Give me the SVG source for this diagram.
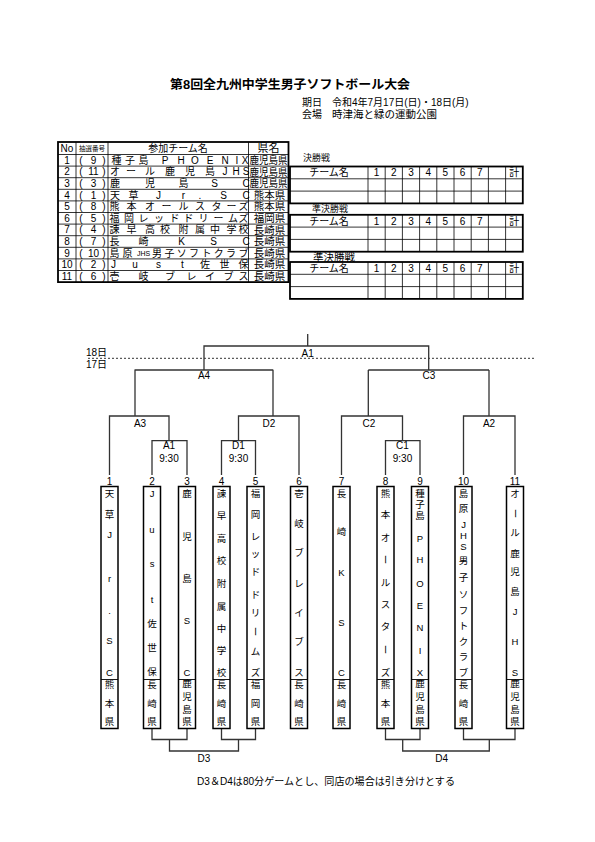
<svg xmlns="http://www.w3.org/2000/svg" width="595" height="842" viewBox="0 0 595 842">
<style>
.t{font-family:"Liberation Sans","Noto Sans CJK JP",sans-serif;fill:#000}
.m{text-anchor:middle}
.f10{font-size:10px}
.f9{font-size:9px}
.bx{font-size:9.5px;text-anchor:middle}
.ln{stroke:#333;stroke-width:1.3;fill:none}
.box{fill:#fff;stroke:#000;stroke-width:1.5}
.dv{stroke:#000;stroke-width:0.9}
.g{stroke:#000;stroke-width:0.8;fill:none}
.o{stroke:#000;stroke-width:1.8;fill:none}
</style>
<rect width="595" height="842" fill="#fff"/>

<g id="header">
<text class="t" x="290" y="89" text-anchor="middle" font-size="12.5" font-weight="bold" textLength="240" lengthAdjust="spacingAndGlyphs">第8回全九州中学生男子ソフトボール大会</text>
<text class="t f10" x="302" y="105.5">期日</text>
<text class="t f10" x="332" y="105.5">令和4年7月17日(日)・18日(月)</text>
<text class="t f10" x="302" y="117.5">会場</text>
<text class="t" x="332" y="117.5" font-size="10.5">時津海と緑の運動公園</text>
</g>

<g id="team-table">
<rect class="o" x="58" y="142" width="230.5" height="140.1"/>
<path class="g" d="M76 142V282.1M108 142V282.1M248.5 142V282.1M58 154.5H288.5M58 166.1H288.5M58 177.7H288.5M58 189.3H288.5M58 200.9H288.5M58 212.5H288.5M58 224.1H288.5M58 235.7H288.5M58 247.3H288.5M58 258.9H288.5M58 270.5H288.5"/>
<text class="t f10 m" x="67" y="151.8">No</text>
<text class="t m" x="92" y="151.3" font-size="6.5">抽選番号</text>
<text class="t f10 m" x="178" y="151.8">参加チーム名</text>
<text class="t m" x="268.5" y="152" font-size="11">県名</text>
<g class="t f10 m">
<text x="67" y="163.8">1</text><text x="67" y="175.4">2</text><text x="67" y="187">3</text><text x="67" y="198.6">4</text><text x="67" y="210.2">5</text><text x="67" y="221.8">6</text><text x="67" y="233.4">7</text><text x="67" y="245">8</text><text x="67" y="256.6">9</text><text x="67" y="268.2">10</text><text x="67" y="279.8">11</text>
<text x="81" y="163.8">(</text><text x="93.5" y="163.8">9</text><text x="104" y="163.8">)</text>
<text x="81" y="175.4">(</text><text x="93.5" y="175.4">11</text><text x="104" y="175.4">)</text>
<text x="81" y="187">(</text><text x="93.5" y="187">3</text><text x="104" y="187">)</text>
<text x="81" y="198.6">(</text><text x="93.5" y="198.6">1</text><text x="104" y="198.6">)</text>
<text x="81" y="210.2">(</text><text x="93.5" y="210.2">8</text><text x="104" y="210.2">)</text>
<text x="81" y="221.8">(</text><text x="93.5" y="221.8">5</text><text x="104" y="221.8">)</text>
<text x="81" y="233.4">(</text><text x="93.5" y="233.4">4</text><text x="104" y="233.4">)</text>
<text x="81" y="245">(</text><text x="93.5" y="245">7</text><text x="104" y="245">)</text>
<text x="81" y="256.6">(</text><text x="93.5" y="256.6">10</text><text x="104" y="256.6">)</text>
<text x="81" y="268.2">(</text><text x="93.5" y="268.2">2</text><text x="104" y="268.2">)</text>
<text x="81" y="279.8">(</text><text x="93.5" y="279.8">6</text><text x="104" y="279.8">)</text>
</g>
<g class="t f10 m">
<text x="116.5 130 143.5 165 181 195 210 225 237 245" y="163.8">種子島PHOENIX</text>
<text x="115 131 150 170 190 210 225 236 246" y="175.4">オール鹿児島JHS</text>
<text x="115 150 183.5 214.5 246" y="187">鹿児島SC</text>
<text x="115 133.5 158.5 183.5 200 223.5 246" y="198.6">天草Jr.SC</text>
<text x="114.5 131.5 150 166.5 183.5 200 216.5 231.5 243.5" y="210.2">熊本オールスターズ</text>
<text x="114.5 129 143.5 159 174.5 188.5 203.5 218.5 233 243.5" y="221.8">福岡レッドドリームズ</text>
<text x="114.5 131.5 150 165 183.5 200 215 231.5 243.5" y="233.4">諫早高校附属中学校</text>
<text x="114.5 143.5 181.5 213.5 246" y="245">長崎KSC</text>
<text x="114.5 127.5" y="256.6">島原</text><text x="143.5" y="256.3" font-size="7">JHS</text><text x="157 169.4 181.7 194.1 206.4 218.8 231.1 243.5" y="256.6">男子ソフトクラブ</text>
<text x="113.5 135 158.5 182.5 205 224.5 243.5" y="268.2">Just佐世保</text>
<text x="114.5 143.5 170 191.5 210 228.5 243.5" y="279.8">壱岐ブレイブス</text>
</g>
<g class="t m" font-size="10.5">
<text x="268.5" y="164" textLength="38" lengthAdjust="spacingAndGlyphs">鹿児島県</text>
<text x="268.5" y="175.6" textLength="38" lengthAdjust="spacingAndGlyphs">鹿児島県</text>
<text x="268.5" y="187.2" textLength="38" lengthAdjust="spacingAndGlyphs">鹿児島県</text>
<text x="269.5" y="198.8">熊本県</text>
<text x="269.5" y="210.4">熊本県</text>
<text x="269.5" y="222">福岡県</text>
<text x="269.5" y="233.6">長崎県</text>
<text x="269.5" y="245.2">長崎県</text>
<text x="269.5" y="256.8">長崎県</text>
<text x="269.5" y="268.4">長崎県</text>
<text x="269.5" y="280">長崎県</text>
</g>
</g>

<g id="score-final">
<text class="t f9" x="303" y="161">決勝戦</text>
<rect class="o" x="290" y="166.5" width="232.8" height="36.9"/>
<path class="g" d="M290 178.8H522.8M290 191.1H522.8M368 166.5V203.4M385.2 166.5V203.4M402.4 166.5V203.4M419.6 166.5V203.4M436.8 166.5V203.4M454 166.5V203.4M471.2 166.5V203.4M488.4 166.5V203.4M505.6 166.5V203.4"/>
<g class="t f10 m"><text x="329" y="176.2">チーム名</text><text x="376.6" y="176.2">1</text><text x="393.8" y="176.2">2</text><text x="411" y="176.2">3</text><text x="428.2" y="176.2">4</text><text x="445.4" y="176.2">5</text><text x="462.6" y="176.2">6</text><text x="479.8" y="176.2">7</text><text x="514.2" y="176.2">計</text></g>
</g>

<g id="score-semi1">
<text class="t f9" x="312" y="212">準決勝戦</text>
<rect class="o" x="290" y="214.8" width="232.8" height="36.9"/>
<path class="g" d="M290 227.1H522.8M290 239.4H522.8M368 214.8V251.7M385.2 214.8V251.7M402.4 214.8V251.7M419.6 214.8V251.7M436.8 214.8V251.7M454 214.8V251.7M471.2 214.8V251.7M488.4 214.8V251.7M505.6 214.8V251.7"/>
<g class="t f10 m"><text x="329" y="224.5">チーム名</text><text x="376.6" y="224.5">1</text><text x="393.8" y="224.5">2</text><text x="411" y="224.5">3</text><text x="428.2" y="224.5">4</text><text x="445.4" y="224.5">5</text><text x="462.6" y="224.5">6</text><text x="479.8" y="224.5">7</text><text x="514.2" y="224.5">計</text></g>
</g>

<g id="score-semi2">
<text class="t" x="313" y="260.5" font-size="10.5">準決勝戦</text>
<rect class="o" x="290" y="262" width="232.8" height="36.9"/>
<path class="g" d="M290 274.3H522.8M290 286.6H522.8M368 262V298.9M385.2 262V298.9M402.4 262V298.9M419.6 262V298.9M436.8 262V298.9M454 262V298.9M471.2 262V298.9M488.4 262V298.9M505.6 262V298.9"/>
<g class="t f10 m"><text x="329" y="271.7">チーム名</text><text x="376.6" y="271.7">1</text><text x="393.8" y="271.7">2</text><text x="411" y="271.7">3</text><text x="428.2" y="271.7">4</text><text x="445.4" y="271.7">5</text><text x="462.6" y="271.7">6</text><text x="479.8" y="271.7">7</text><text x="514.2" y="271.7">計</text></g>
</g>

<g id="connectors">
<path class="ln" d="M307.7 334V346M204 370V346H428.7V370M134.5 370H273.3M368.3 370H489M135 370V416M273 370V416M368.3 370V416M489 370V416M109.5 475V416H169V440.7M152 475V440.7H187V475M238.5 440.7V416H299V475M221.5 475V440.7H255.5V475M341.5 475V416H402.5V440.7M385.5 475V440.7H420V475M463.5 475V416H515V475"/>
<path class="ln" d="M152 728.5V739.5H187V728.5M221.5 728.5V739.5H255.5V728.5M169.5 739.5V751H238.5V739.5M385.5 728.5V739.5H420V728.5M463.5 728.5V739.5H515V728.5M402.7 739.5V751H489.3V739.5"/>
<path d="M88 358.3H535" stroke="#333" stroke-width="1" stroke-dasharray="2,2"/>
</g>

<g id="labels" class="t f10">
<text x="86" y="356">18日</text>
<text x="86" y="367.5">17日</text>
<g class="m">
<text x="307.7" y="357">A1</text>
<text x="204" y="379">A4</text>
<text x="429" y="379">C3</text>
<text x="140" y="426.5">A3</text>
<text x="269" y="426.5">D2</text>
<text x="369" y="426.5">C2</text>
<text x="489" y="426.5">A2</text>
<text x="169" y="449">A1</text><text x="169" y="462">9:30</text>
<text x="238.5" y="449">D1</text><text x="238.5" y="462">9:30</text>
<text x="402.5" y="449">C1</text><text x="402.5" y="462">9:30</text>
<text x="109.5" y="484.5">1</text><text x="152" y="484.5">2</text><text x="187" y="484.5">3</text><text x="221.5" y="484.5">4</text><text x="255.5" y="484.5">5</text><text x="299" y="484.5">6</text><text x="341.5" y="484.5">7</text><text x="385.5" y="484.5">8</text><text x="420" y="484.5">9</text><text x="463.5" y="484.5">10</text><text x="515" y="484.5">11</text>
<text x="204" y="761.5">D3</text>
<text x="441.7" y="761.5">D4</text>
</g>
<text x="197" y="785" textLength="258" lengthAdjust="spacingAndGlyphs">D3＆D4は80分ゲームとし、同店の場合は引き分けとする</text>
</g>

<g id="team-1"><rect class="box" x="101" y="486.5" width="17" height="242"/><path class="dv" d="M101 679.5H118"/>
<text class="t bx" x="109.5 109.5 109.5 109.5 109.5 109.5 109.5" y="497.4 518.4 538.4 581.5 613.5 644.4 676.4">天草Jr.SC</text>
<text class="t bx" x="109.5 109.5 109.5" y="688.4 706.9 724.9">熊本県</text></g>

<g id="team-2"><rect class="box" x="143.5" y="486.5" width="17" height="242"/><path class="dv" d="M143.5 679.5H160.5"/>
<text class="t bx" x="152 152 152 152 152 152 152" y="497.4 532.5 566.5 603 627.4 651.4 675.4">Just佐世保</text>
<text class="t bx" x="152 152 152" y="688.4 706.9 724.9">長崎県</text></g>

<g id="team-3"><rect class="box" x="178.5" y="486.5" width="17" height="242"/><path class="dv" d="M178.5 679.5H195.5"/>
<text class="t bx" x="187 187 187 187 187" y="496.9 539.9 581.9 623.9 675.9">鹿児島SC</text>
<text class="t bx" x="187 187 187 187" y="687.4 699.9 712.9 724.9">鹿児島県</text></g>

<g id="team-4"><rect class="box" x="213" y="486.5" width="17" height="242"/><path class="dv" d="M213 679.5H230"/>
<text class="t bx" x="221.5 221.5 221.5 221.5 221.5 221.5 221.5 221.5 221.5" y="496.9 519.4 541.9 564.4 586.9 609.9 631.9 653.9 675.9">諫早高校附属中学校</text>
<text class="t bx" x="221.5 221.5 221.5" y="688.4 706.9 724.9">長崎県</text></g>

<g id="team-5"><rect class="box" x="247" y="486.5" width="17" height="242"/><path class="dv" d="M247 679.5H264"/>
<text class="t bx" x="255.5 255.5 255.5 255.5 255.5 255.5 255.5 255.5 255.5" y="497.4 518.4 539.9 557.4 574.9 598.4 615.9 654.9 675.9">福岡レッドドリムズ</text>
<text class="t bx" x="0" y="3.4" transform="translate(255.5 631.5) rotate(90)">ー</text>
<text class="t bx" x="255.5 255.5 255.5" y="688.4 706.9 724.9">福岡県</text></g>

<g id="team-6"><rect class="box" x="290.5" y="486.5" width="17" height="242"/><path class="dv" d="M290.5 679.5H307.5"/>
<text class="t bx" x="299 299 299 299 299 299 299" y="497.4 526.9 555.9 586.9 615.9 645.4 675.9">壱岐ブレイブス</text>
<text class="t bx" x="299 299 299" y="688.4 706.9 724.9">長崎県</text></g>

<g id="team-7"><rect class="box" x="333" y="486.5" width="17" height="242"/><path class="dv" d="M333 679.5H350"/>
<text class="t bx" x="341.5 341.5 341.5 341.5 341.5" y="496.9 534.9 575.9 625.9 675.9">長崎KSC</text>
<text class="t bx" x="341.5 341.5 341.5" y="688.4 706.9 724.9">長崎県</text></g>

<g id="team-8"><rect class="box" x="377" y="486.5" width="17" height="242"/><path class="dv" d="M377 679.5H394"/>
<text class="t bx" x="385.5 385.5 385.5 385.5 385.5 385.5 385.5" y="496.9 518.4 540.9 585.9 608.4 629.9 675.9">熊本オルスタズ</text>
<text class="t bx" x="0" y="3.4" transform="translate(385.5 559.5) rotate(90)">ー</text>
<text class="t bx" x="0" y="3.4" transform="translate(385.5 649.5) rotate(90)">ー</text>
<text class="t bx" x="385.5 385.5 385.5" y="688.4 706.9 724.9">熊本県</text></g>

<g id="team-9"><rect class="box" x="411.5" y="486.5" width="17" height="242"/><path class="dv" d="M411.5 679.5H428.5"/>
<text class="t bx" x="420 420 420 420 420 420 420 420 420 420" y="496.9 507.9 518.9 541.9 563.4 586.9 609.4 630.9 653.9 675.9">種子島PHOENIX</text>
<text class="t bx" x="420 420 420 420" y="687.4 699.9 712.9 724.9">鹿児島県</text></g>

<g id="team-10"><rect class="box" x="455" y="486.5" width="17" height="242"/><path class="dv" d="M455 679.5H472"/>
<text class="t bx" x="463.5 463.5 463.5 463.5 463.5 463.5 463.5 463.5 463.5 463.5 463.5 463.5 463.5" y="496.9 511.9 527.9 539.4 549.9 564.4 580.9 598.4 613.9 628.9 644.9 659.9 675.9">島原JHS男子ソフトクラブ</text>
<text class="t bx" x="463.5 463.5 463.5" y="688.4 706.9 724.9">長崎県</text></g>

<g id="team-11"><rect class="box" x="506.5" y="486.5" width="17" height="242"/><path class="dv" d="M506.5 679.5H523.5"/>
<text class="t bx" x="515 515 515 515 515 515 515 515" y="496.9 535.9 556.9 574.9 594.9 614.9 644.9 675.9">オル鹿児島JHS</text>
<text class="t bx" x="0" y="3.4" transform="translate(515 513.5) rotate(90)">ー</text>
<text class="t bx" x="515 515 515 515" y="687.4 699.9 712.9 724.9">鹿児島県</text></g>
</svg>
